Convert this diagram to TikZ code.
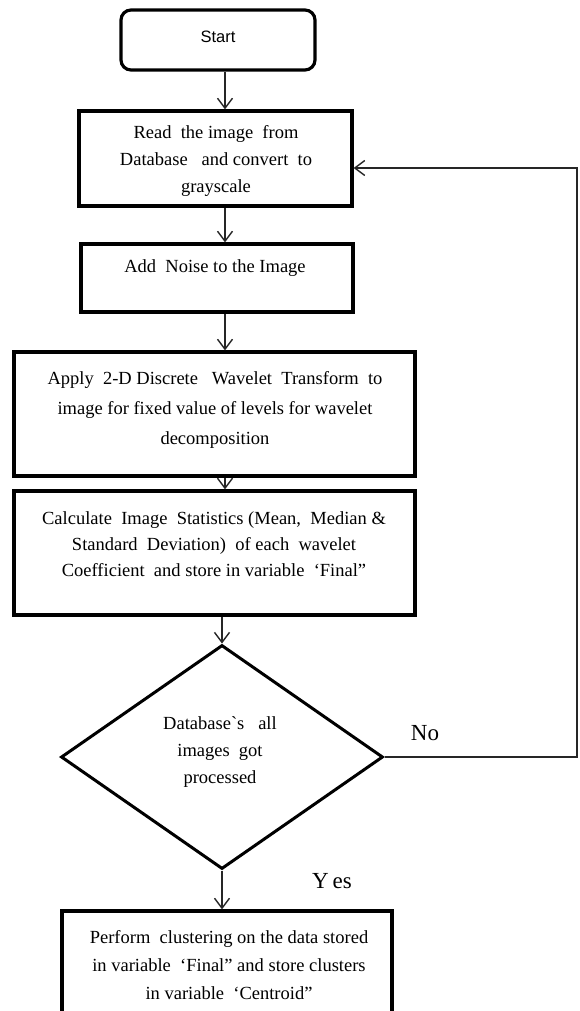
\documentclass[tikz,border=0pt]{standalone}
\usepackage{fontspec}
\setmainfont{Liberation Serif}
\newfontfamily\startfont{Liberation Sans}
\newfontfamily\rawserif{Liberation Serif}[Ligatures=TeXOff]
\usetikzlibrary{arrows.meta,shapes.geometric}
\tikzset{
  box/.style={draw=black, line width=3.2pt, inner sep=0pt, fill=white},
  startbox/.style={box, rounded corners=10pt},
  decision/.style={draw=black, line width=3pt, diamond, inner sep=0pt, aspect=1.43},
  txt/.style={align=center, inner sep=0pt, font=\fontsize{18.5}{27}\selectfont},
  arr/.style={draw=black!85, line width=1.4pt, -{Straight Barb[length=10pt,width=15pt,line width=1.4pt]}},
  lbl/.style={inner sep=0pt, font=\fontsize{23}{26}\selectfont}
}
\begin{document}
\begin{tikzpicture}[x=1pt,y=-1pt]
\clip (0,0) rectangle (579,1011);
\fill[white] (0,0) rectangle (579,1011);
% boxes
\node[startbox, minimum width=194pt, minimum height=60pt] (start) at (218,40) {};
\node[box, minimum width=273pt, minimum height=95pt] (read) at (215.5,158.5) {};
\node[box, minimum width=272pt, minimum height=68pt] (noise) at (217,278) {};
\node[box, minimum width=401pt, minimum height=124pt] (dwt) at (214.5,414) {};
\node[box, minimum width=401pt, minimum height=124pt] (calc) at (214.5,553) {};
\node[decision, minimum width=322pt, minimum height=224pt] (dec) at (222,757) {};
\node[box, minimum width=330pt, minimum height=140pt] (final) at (227,981) {};
% texts
\node[inner sep=0pt, font=\startfont\fontsize{16.5}{20}\selectfont] (tstart) at (218,37) {Start};
\node[txt] (tread) at (216,161) {Read\ \ the image\ \ from\\Database\ \ \ and convert\ \ to\\grayscale};
\node[txt] (tnoise) at (215,268) {Add\ \ Noise to the Image};
\node[txt, font=\fontsize{18.5}{30}\selectfont] (tdwt) at (215,410) {Apply\ \ 2-D Discrete\ \ \ Wavelet\ \ Transform\ \ to\\image for fixed value of levels for wavelet\\decomposition};
\node[txt, font=\fontsize{18.5}{26}\selectfont] (tcalc) at (214,544) {Calculate\ \ Image\ \ Statistics (Mean,\ \ Median \&\\Standard\ \ Deviation)\ \ of each\ \ wavelet\\Coefficient\ \ and store in variable\ \ `Final''};
\node[txt] (tdec) at (220,752) {Database{\rawserif\symbol{96}}s\ \ \ all\\images\ \ got\\processed};
\node[txt, font=\fontsize{18.5}{28}\selectfont] (tfinal) at (229,965) {Perform\ \ clustering on the data stored\\in variable\ \ `Final'' and store clusters\\in variable\ \ `Centroid''};
\node[lbl] (no) at (425,733) {No};
\node[lbl] (yes) at (332,881) {Y\,es};
% connectors
\coordinate (ax) at (225,0);
\coordinate (back) at (577,168);
\draw[arr] (start.south -| ax) -- (read.north -| ax);
\draw[arr] (read.south -| ax) -- (noise.north -| ax);
\draw[arr] (noise.south -| ax) -- (dwt.north -| ax);
\draw[arr] (dwt.south -| ax) -- (calc.north -| ax);
\draw[arr] (calc.south -| dec.north) -- (dec.north);
\draw[arr] (dec.south) -- (final.north -| dec.south);
\draw[arr] (dec.east) -| (back) -- (back -| read.east);
\end{tikzpicture}
\end{document}
